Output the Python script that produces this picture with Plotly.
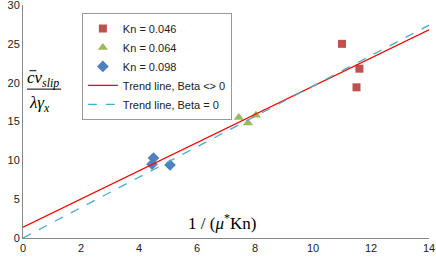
import plotly.graph_objects as go

# Data
kn046_x = [11.0, 11.6, 11.5]
kn046_y = [25.0, 21.8, 19.4]
kn064_x = [7.44, 7.76, 8.03]
kn064_y = [15.5, 14.8, 15.8]
kn098_x = [4.50, 4.45, 5.07]
kn098_y = [10.3, 9.5, 9.4]

trend_x = [0, 14]
trend_beta_y = [1.4, 26.8]   # Beta <> 0
trend_zero_y = [0.0, 27.4]   # Beta = 0

x_ticks = [0, 2, 4, 6, 8, 10, 12, 14]
y_ticks = [0, 5, 10, 15, 20, 25, 30]

fig = go.Figure()
fig.add_trace(go.Scatter(x=kn046_x, y=kn046_y, mode="markers", name="Kn = 0.046",
                         marker=dict(symbol="square", size=8, color="#C0504D")))
fig.add_trace(go.Scatter(x=kn064_x, y=kn064_y, mode="markers", name="Kn = 0.064",
                         marker=dict(symbol="triangle-up", size=9, color="#9BBB59")))
fig.add_trace(go.Scatter(x=kn098_x, y=kn098_y, mode="markers", name="Kn = 0.098",
                         marker=dict(symbol="diamond", size=9, color="#4F81BD")))
fig.add_trace(go.Scatter(x=trend_x, y=trend_beta_y, mode="lines", name="Trend line, Beta <> 0",
                         line=dict(color="#FF0000", width=1.3)))
fig.add_trace(go.Scatter(x=trend_x, y=trend_zero_y, mode="lines", name="Trend line, Beta = 0",
                         line=dict(color="#4BACC6", width=1.3, dash="dash")))

fig.update_layout(
    width=436, height=260,
    margin=dict(l=23, r=7, t=5, b=22, autoexpand=False),
    paper_bgcolor="white", plot_bgcolor="white",
    font=dict(family="Liberation Sans, Arial", size=11, color="#222"),
    showlegend=True,
    legend=dict(x=0.145, y=0.966, xanchor="left", yanchor="top",
                bordercolor="#999", borderwidth=1, bgcolor="white",
                font=dict(size=11, color="#222"), tracegroupgap=0,
                itemwidth=30),
    xaxis=dict(range=[0, 14.0001], tickvals=x_ticks, showgrid=False, zeroline=False,
               showline=True, linecolor="#888", linewidth=1, ticks="",
               tickfont=dict(size=11), automargin=False, ticklabeloverflow="allow"),
    yaxis=dict(range=[0, 30.0001], tickvals=y_ticks, showgrid=False, zeroline=False,
               showline=True, linecolor="#888", linewidth=1, ticks="",
               tickfont=dict(size=11), automargin=False, ticklabeloverflow="allow"),
)

serif = "Liberation Serif, Times New Roman, serif"
# y-axis title as fraction
fig.add_annotation(xref="paper", yref="paper", x=0.005, y=0.628, xanchor="left", yanchor="bottom",
                   text="<i>cv<sub>slip</sub></i>", showarrow=False,
                   font=dict(family=serif, size=17, color="#000"))
fig.add_annotation(xref="paper", yref="paper", x=0.01, y=0.632, xanchor="left", yanchor="top",
                   text="<i>λγ<sub>x</sub></i>", showarrow=False,
                   font=dict(family=serif, size=17, color="#000"))
fig.add_shape(type="line", xref="paper", yref="paper", x0=0.01, x1=0.094, y0=0.639, y1=0.639,
              line=dict(color="#000", width=1))
fig.add_shape(type="line", xref="paper", yref="paper", x0=0.016, x1=0.033, y0=0.718, y1=0.718,
              line=dict(color="#000", width=1))
# x-axis title
fig.add_annotation(xref="paper", yref="paper", x=0.49, y=0.015, xanchor="center", yanchor="bottom",
                   text="1 / (<i>μ</i><sup>*</sup>Kn)", showarrow=False,
                   font=dict(family=serif, size=17, color="#000"))

fig.write_html("out.html", config={"displayModeBar": False},
               post_script="document.body.style.margin='0';")
